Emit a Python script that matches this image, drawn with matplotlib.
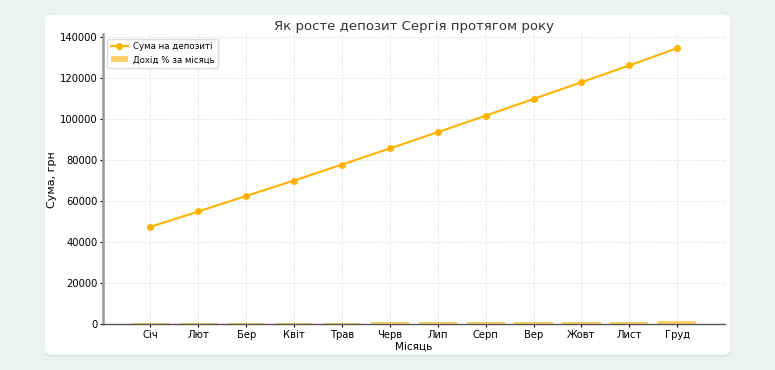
import matplotlib
matplotlib.use("Agg")
from matplotlib import pyplot as plt
from matplotlib.patches import FancyBboxPatch
import numpy as np

months = ["Січ", "Лют", "Бер", "Квіт", "Трав", "Черв", "Лип", "Серп", "Вер", "Жовт", "Лист", "Груд"]
deposit = [47500, 55000, 62600, 70100, 77900, 85800, 93700, 101800, 109900, 118100, 126300, 134700]
income = [480, 550, 630, 700, 780, 860, 940, 1020, 1100, 1180, 1260, 1350]

orange = "#FFB300"

fig = plt.figure(figsize=(7.75, 3.7), dpi=100)
fig.patch.set_facecolor("#EEF1F2")

# white card behind the chart
shadow = FancyBboxPatch((0.058, 0.035), 0.885, 0.925, boxstyle="round,pad=0,rounding_size=0.012",
                        transform=fig.transFigure, facecolor="#E2E5E7", edgecolor="none", zorder=-2)
card = FancyBboxPatch((0.058, 0.042), 0.884, 0.918, boxstyle="round,pad=0,rounding_size=0.012",
                      transform=fig.transFigure, facecolor="white", edgecolor="none", zorder=-1)
fig.patches.extend([shadow, card])

ax = fig.add_axes([0.133, 0.124, 0.802, 0.783])
ax.set_zorder(1)
ax.set_facecolor("none")

x = np.arange(len(months))
ax.bar(x, income, width=0.8, color=orange, alpha=0.6, label="Дохід % за місяць")
ax.plot(x, deposit, color=orange, marker="o", markersize=4, linewidth=1.5, label="Сума на депозиті")

ax.set_xticks(x)
ax.set_xticklabels(months)
ax.set_title("Як росте депозит Сергія протягом року", fontsize=9.5, color="#333333", pad=3)
ax.set_xlabel("Місяць", fontsize=7.5, labelpad=1)
ax.set_ylabel("Сума, грн", fontsize=8, labelpad=2)
ax.tick_params(labelsize=7.2, length=2, pad=2)

ax.grid(True, linestyle="--", linewidth=0.6, color="#E3E3E3")
ax.set_axisbelow(True)
for side in ["top", "right"]:
    ax.spines[side].set_visible(False)
ax.spines["left"].set_color("#999999")
ax.spines["left"].set_linewidth(1.8)
ax.spines["bottom"].set_color("#555555")
ax.spines["bottom"].set_linewidth(1.0)

ax.legend(loc="upper left", fontsize=6.2, framealpha=1, edgecolor="#DDDDDD", handletextpad=0.6)

fig.savefig("out.png", dpi=100, facecolor=fig.get_facecolor())
